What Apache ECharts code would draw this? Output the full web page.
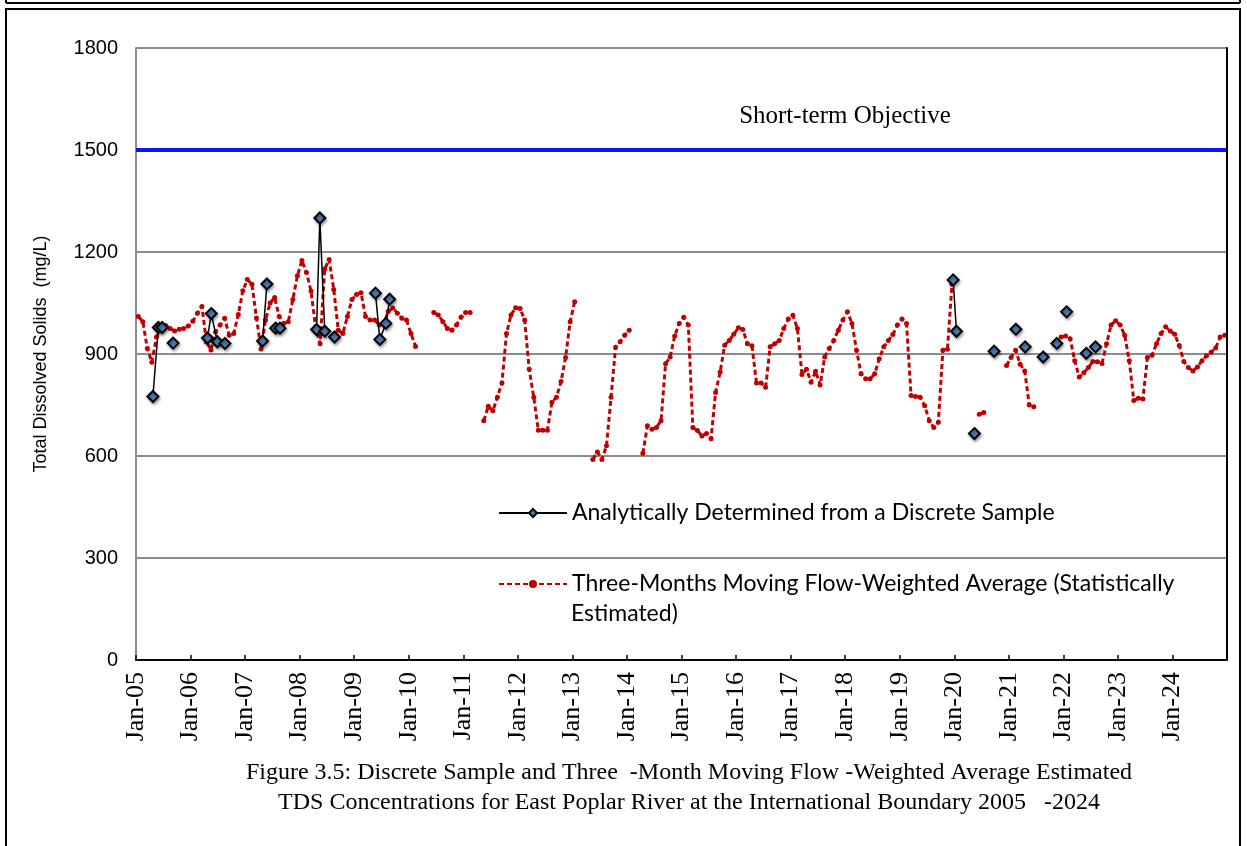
<!DOCTYPE html>
<html>
<head>
<meta charset="utf-8">
<script src="https://cdn.jsdelivr.net/npm/echarts@6/dist/echarts.min.js"></script>
<style>
  html, body { margin: 0; padding: 0; background: #fff; }
  #chart { width: 1247px; height: 846px; }
</style>
</head>
<body>
<div id="chart"></div>
<script>
// three-month moving flow-weighted average, one value per month (Jan..Dec), null = no estimate
const avg2005 = [1010, 995, 916, 876, 950, 975, 984, 975, 968, 973, 975, 982];
const avg2006 = [996, 1020, 1040, 935, 912, 965, 985, 1005, 955, 960, 1016, 1086];
const avg2007 = [1119, 1105, 1006, 915, 1000, 1050, 1066, 1010, 990, 995, 1060, 1130];
const avg2008 = [1175, 1140, 1085, 980, 930, 1150, 1178, 1090, 970, 960, 1010, 1060];
const avg2009 = [1075, 1080, 1010, 1000, 1000, 985, 990, 1025, 1035, 1020, 1005, 1000];
const avg2010 = [960, 922, null, null, null, 1022, 1015, 995, 975, 970, 985, 1008];
const avg2011 = [1022, 1022, null, null, 704, 746, 733, 773, 815, 960, 1015, 1036];
const avg2012 = [1034, 1000, 855, 773, 676, 676, 676, 758, 773, 819, 890, 995];
const avg2013 = [1054, null, null, null, 590, 612, 590, 630, 773, 920, 936, 955];
const avg2014 = [970, null, null, 608, 689, 679, 684, 704, 871, 891, 953, 990];
const avg2015 = [1008, 985, 684, 675, 659, 666, 651, 787, 847, 926, 940, 958];
const avg2016 = [977, 972, 930, 924, 815, 815, 802, 921, 930, 940, 975, 1003];
const avg2017 = [1014, 975, 840, 855, 817, 849, 809, 891, 916, 940, 970, 1000];
const avg2018 = [1024, 990, 911, 842, 827, 827, 842, 886, 921, 940, 957, 985];
const avg2019 = [1003, 990, 778, 775, 773, 748, 704, 684, 699, 911, 914, 1105];
const avg2020 = [null, null, null, null, null, 723, 728, null, null, null, null, 866];
const avg2021 = [890, 911, 870, 850, 750, 745, null, null, null, null, 930, 950];
const avg2022 = [953, 945, 880, 832, 845, 860, 878, 877, 872, 930, 985, 998];
const avg2023 = [985, 955, 880, 763, 770, 768, 890, 896, 930, 960, 980, 968];
const avg2024 = [958, 925, 878, 860, 850, 862, 880, 895, 905, 918, 950, 955];

// discrete samples (decimal year, mg/L); null splits the black line
const sampleYears = [
  2005.31, 2005.41, 2005.48, null, 2005.68, null,
  2006.31, 2006.38, 2006.49, null, 2006.63, null,
  2007.32, 2007.40, null, 2007.56, 2007.64, null,
  2008.31, 2008.37, 2008.46, null, 2008.64, null,
  2009.39, 2009.47, 2009.58, 2009.65, null,
  2019.98, 2020.04, null, 2020.37, null, 2020.73, null,
  2021.13, null, 2021.30, null, 2021.63, null, 2021.88, null,
  2022.06, null, 2022.42, null, 2022.59
];
const sampleValues = [
  775, 978, 978, null, 932, null,
  947, 1019, 936, null, 931, null,
  938, 1106, null, 976, 976, null,
  972, 1300, 967, null, 950, null,
  1079, 943, 990, 1061, null,
  1118, 967, null, 666, null, 908, null,
  973, null, 921, null, 891, null, 931, null,
  1024, null, 902, null, 921
];

const objective = 1500;
const yTicks = [0, 300, 600, 900, 1200, 1500, 1800];

const sampleName = 'Analytically Determined from a Discrete Sample';
const avgName = 'Three-Months Moving Flow-Weighted Average (Statistically Estimated)';

const monthly = [].concat(avg2005, avg2006, avg2007, avg2008, avg2009, avg2010, avg2011,
  avg2012, avg2013, avg2014, avg2015, avg2016, avg2017, avg2018, avg2019, avg2020,
  avg2021, avg2022, avg2023, avg2024);
const avgData = monthly.map((v, m) => [2005 + (m + 0.5) / 12, v == null ? '-' : v]);
const sampleData = sampleYears.map((x, i) =>
  sampleValues[i] == null ? ['-', '-'] : [x, sampleValues[i]]);

const chart = echarts.init(document.getElementById('chart'));

const serif = 'Liberation Serif';
const sans = 'Liberation Sans';
const legendFont = { fontFamily: 'Lato', fontSize: 23, color: '#000' };

chart.setOption({
  animation: false,
  backgroundColor: '#fff',
  grid: { left: 136, right: 20, top: 48, bottom: 186 },
  xAxis: [{
    type: 'value', min: 2005, max: 2025, interval: 1, z: 3,
    axisLine: { lineStyle: { color: '#000', width: 1.5 } },
    axisTick: { inside: true, length: 5, lineStyle: { color: '#000', width: 1.5 } },
    axisLabel: {
      rotate: 90, margin: 12, color: '#000', fontFamily: serif, fontSize: 26,
      showMaxLabel: false,
      formatter: v => v < 2025 ? 'Jan-' + String(v).slice(2) : ''
    },
    splitLine: { show: false }
  }, {
    type: 'value', position: 'top', min: 2005, max: 2025, z: 3,
    axisLine: { lineStyle: { color: '#000', width: 1.5 } },
    axisTick: { show: false }, axisLabel: { show: false }, splitLine: { show: false }
  }],
  yAxis: [{
    type: 'value', min: yTicks[0], max: yTicks[yTicks.length - 1], interval: 300,
    name: 'Total Dissolved Solids  (mg/L)', nameLocation: 'middle', nameGap: 86,
    nameTextStyle: { fontFamily: sans, fontSize: 18, color: '#000' },
    axisLine: { show: true, lineStyle: { color: '#8c8c8c', width: 2 } },
    axisTick: { show: false },
    axisLabel: { margin: 18, color: '#000', fontFamily: sans, fontSize: 20, formatter: v => String(v) },
    splitLine: { lineStyle: { color: '#8c8c8c', width: 2 } }
  }, {
    type: 'value', position: 'right', min: 0, max: 1800, z: 3,
    axisLine: { show: true, lineStyle: { color: '#000', width: 2 } },
    axisTick: { show: false }, axisLabel: { show: false }, splitLine: { show: false }
  }],
  legend: [{
    orient: 'vertical', left: 498, top: 498, padding: 0,
    itemWidth: 68, itemHeight: 10,
    data: [sampleName],
    textStyle: Object.assign({ lineHeight: 30 }, legendFont)
  }, {
    orient: 'vertical', left: 498, top: 569, padding: 0,
    itemWidth: 68, itemHeight: 10,
    data: [avgName],
    formatter: () => 'Three-Months Moving Flow-Weighted Average (Statistically',
    textStyle: Object.assign({ lineHeight: 30 }, legendFont)
  }],
  series: [{
    name: 'objective', type: 'line', silent: true, symbol: 'none', z: 1,
    data: [[2005, objective], [2025, objective]],
    lineStyle: { color: '#0a14ff', width: 4 }
  }, {
    name: avgName, type: 'line', data: avgData, z: 2,
    showAllSymbol: true, symbol: 'circle', symbolSize: 5, connectNulls: false,
    lineStyle: { color: '#c00000', width: 3, type: [5, 3] },
    itemStyle: { color: '#c00000' }
  }, {
    name: sampleName, type: 'line', data: sampleData, z: 3,
    showAllSymbol: true, symbol: 'diamond', symbolSize: 11, connectNulls: false,
    lineStyle: { color: '#000', width: 1.5 },
    itemStyle: {
      color: '#4f81bd', borderColor: '#000', borderWidth: 2,
      shadowBlur: 3, shadowColor: 'rgba(0,0,0,0.35)', shadowOffsetX: 1, shadowOffsetY: 2
    }
  }],
  graphic: [
    { type: 'line', shape: { x1: 6, y1: 3, x2: 1240, y2: 3 }, style: { stroke: '#000', lineWidth: 2 } },
    { type: 'line', shape: { x1: 6, y1: 0, x2: 6, y2: 3 }, style: { stroke: '#000', lineWidth: 2 } },
    { type: 'line', shape: { x1: 1240, y1: 0, x2: 1240, y2: 3 }, style: { stroke: '#000', lineWidth: 2 } },
    { type: 'rect', shape: { x: 6, y: 9, width: 1234, height: 900 }, style: { fill: null, stroke: '#000', lineWidth: 2 } },
    {
      type: 'text', x: 845, y: 116,
      style: { text: 'Short-term Objective', font: '25px "Liberation Serif"', fill: '#000', textAlign: 'center', textVerticalAlign: 'middle' }
    },
    {
      type: 'text', x: 571, y: 614,
      style: { text: 'Estimated)', font: '23px Lato', fill: '#000', textAlign: 'left', textVerticalAlign: 'middle' }
    },
    {
      type: 'text', x: 689, y: 788,
      style: {
        text: 'Figure 3.5: Discrete Sample and Three  -Month Moving Flow -Weighted Average Estimated\nTDS Concentrations for East Poplar River at the International Boundary 2005   -2024',
        font: '24px "Liberation Serif"', lineHeight: 30, fill: '#000', textAlign: 'center', textVerticalAlign: 'middle'
      }
    }
  ]
});
</script>
</body>
</html>
